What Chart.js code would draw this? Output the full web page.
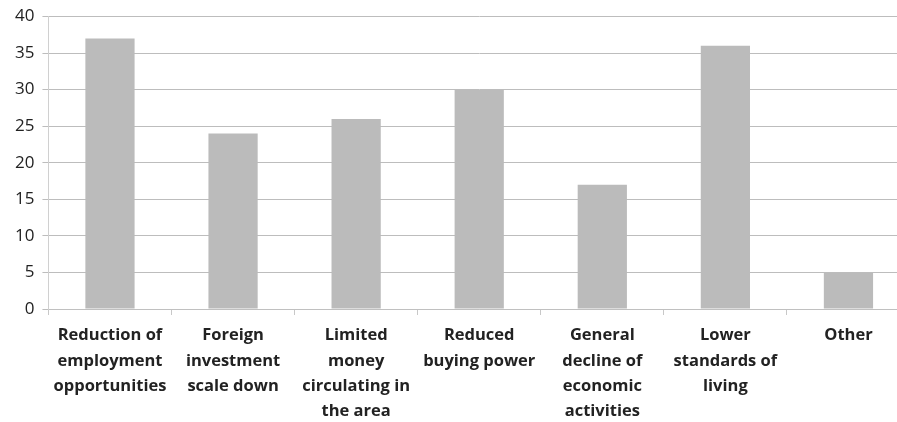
<!DOCTYPE html>
<html>
<head>
<meta charset="utf-8">
<script src="https://cdn.jsdelivr.net/npm/chart.js@4"></script>
<style>
  html, body { margin: 0; padding: 0; background: #fff; overflow: hidden; }
  #wrap { width: 910px; height: 422px; position: relative; }
</style>
</head>
<body>
<div id="wrap"><canvas id="chart"></canvas></div>
<script>
// categories and values
const categories = [
    ['Reduction of', 'employment', 'opportunities'],
    ['Foreign', 'investment', 'scale down'],
    ['Limited', 'money', 'circulating in', 'the area'],
    ['Reduced', 'buying power'],
    ['General', 'decline of', 'economic', 'activities'],
    ['Lower', 'standards of', 'living'],
    ['Other']
];
const values = [37, 24, 26, 30, 17, 36, 5];
const yTicks = [0, 5, 10, 15, 20, 25, 30, 35, 40];

const ctx = document.getElementById('chart').getContext('2d');
new Chart(ctx, {
    type: 'bar',
    data: {
        labels: categories,
        datasets: [{
            data: values,
            backgroundColor: '#bbbbbb',
            borderWidth: 0,
            categoryPercentage: 1,
            barPercentage: 0.4
        }]
    },
    options: {
        responsive: true,
        maintainAspectRatio: false,
        animation: false,
        layout: { padding: { top: 16.5, left: 7, right: 0, bottom: 0 } },
        plugins: { legend: { display: false }, tooltip: { enabled: false } },
        scales: {
            x: {
                afterFit: scale => { scale.height = 113; },
                grid: { offset: true, drawOnChartArea: false, color: '#c8c8c8', tickLength: 6 },
                border: { color: '#c0c0c0' },
                ticks: {
                    color: '#222',
                    font: { family: 'Open Sans', weight: 'bold', size: 16.5, lineHeight: 1.53 },
                    maxRotation: 0,
                    autoSkip: false,
                    padding: 8
                }
            },
            y: {
                min: 0,
                max: 40,
                afterBuildTicks: axis => { axis.ticks = yTicks.map(v => ({ value: v })); },
                grid: { color: '#bdbdbd', tickLength: 6 },
                border: { color: '#d0d0d0' },
                ticks: {
                    color: '#222',
                    font: { family: 'Open Sans', size: 17, lineHeight: 1 },
                    padding: 8
                }
            }
        }
    }
});
</script>
</body>
</html>
